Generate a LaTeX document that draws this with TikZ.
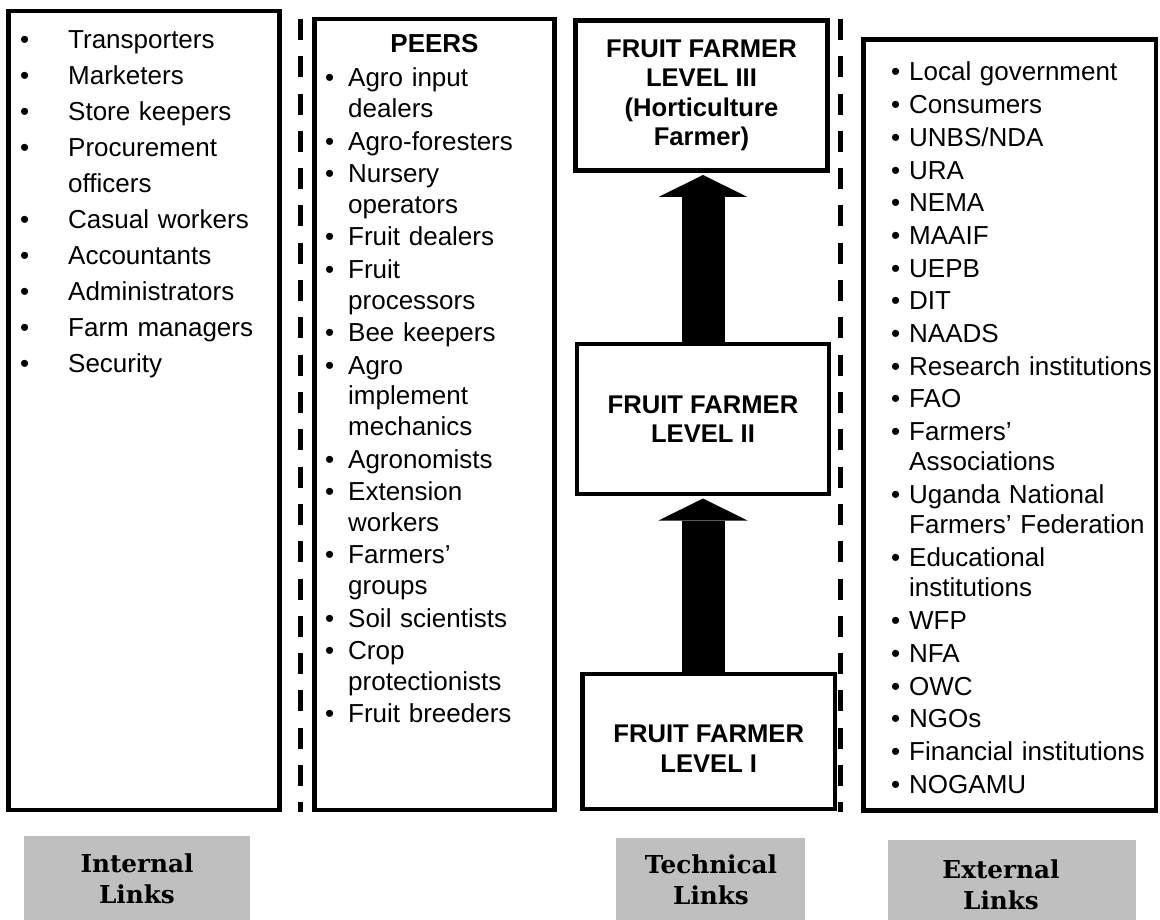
\documentclass[tikz,border=0pt]{standalone}
\usepackage{fontspec}
\setmainfont{Liberation Sans}
\newfontfamily\slabfont{DejaVu Serif}
\usetikzlibrary{arrows.meta}
\definecolor{linkgray}{HTML}{BFBFBF}

% bulleted entry with hanging indent
\newlength\bulind
\newcommand\bulitem[1]{\noindent\hangindent=\bulind\hangafter=1\makebox[\bulind][l]{\textbullet}#1\par}

\begin{document}
\begin{tikzpicture}[x=1pt,y=-1pt,
  frame/.style={draw=black, line width=4.5pt, inner sep=0pt},
  divider/.style={line width=5pt, dash pattern=on 21pt off 16.3pt},
  listtext/.style={inner sep=0pt, anchor=base west, align=left},
  heading/.style={inner sep=0pt, align=center, font=\bfseries\fontsize{25.6pt}{29.5pt}\selectfont},
  linkbox/.style={fill=linkgray, inner sep=0pt},
  linktext/.style={inner sep=0pt, anchor=base, align=center, text width=220pt,
    font=\slabfont\bfseries\fontsize{24.7pt}{31pt}\selectfont},
  uparrow/.style={line width=43pt, -{Triangle[length=22pt 0 0, width=89pt 0 0, line width=0pt]}}
]
\useasboundingbox (0,0) rectangle (1160,920);

% ---- frames of the four columns
\node[frame, minimum width=271pt, minimum height=799pt] (internal) at (144,410.5) {};
\node[frame, minimum width=240pt, minimum height=791pt] (peers) at (434.5,414.5) {};
\node[frame, minimum width=292.5pt, minimum height=771pt] (external) at (1009.75,425) {};

% ---- dashed separators
\draw[divider] (300,19) -- (300,812);
\draw[divider] (840,19) -- (840,812);

% ---- internal links list
\node[listtext, text width=255pt, font=\fontsize{26pt}{36pt}\selectfont] (internallist) at (20,49) {%
  \setlength{\bulind}{48pt}\setlength{\parskip}{0pt}%
  \bulitem{Transporters}
  \bulitem{Marketers}
  \bulitem{Store keepers}
  \bulitem{Procurement\newline officers}
  \bulitem{Casual workers}
  \bulitem{Accountants}
  \bulitem{Administrators}
  \bulitem{Farm managers}
  \bulitem{Security}};

% ---- peers list
\node[inner sep=0pt, anchor=base, font=\bfseries\fontsize{26pt}{30pt}\selectfont] (peershead) at (434.5,53) {PEERS};
\node[listtext, text width=228pt, font=\fontsize{26pt}{30.3pt}\selectfont] (peerslist) at (325,87) {%
  \setlength{\bulind}{23pt}\setlength{\parskip}{2.5pt}%
  \bulitem{Agro input\newline dealers}
  \bulitem{Agro-foresters}
  \bulitem{Nursery\newline operators}
  \bulitem{Fruit dealers}
  \bulitem{Fruit\newline processors}
  \bulitem{Bee keepers}
  \bulitem{Agro\newline implement\newline mechanics}
  \bulitem{Agronomists}
  \bulitem{Extension\newline workers}
  \bulitem{Farmers’\newline groups}
  \bulitem{Soil scientists}
  \bulitem{Crop\newline protectionists}
  \bulitem{Fruit breeders}};

% ---- external links list
\node[listtext, text width=268pt, font=\fontsize{26pt}{30.3pt}\selectfont] (externallist) at (891,81) {%
  \setlength{\bulind}{18pt}\setlength{\parskip}{2.4pt}%
  \bulitem{Local government}
  \bulitem{Consumers}
  \bulitem{UNBS/NDA}
  \bulitem{URA}
  \bulitem{NEMA}
  \bulitem{MAAIF}
  \bulitem{UEPB}
  \bulitem{DIT}
  \bulitem{NAADS}
  \bulitem{Research institutions}
  \bulitem{FAO}
  \bulitem{Farmers’\newline Associations}
  \bulitem{Uganda National\newline Farmers’ Federation}
  \bulitem{Educational\newline institutions}
  \bulitem{WFP}
  \bulitem{NFA}
  \bulitem{OWC}
  \bulitem{NGOs}
  \bulitem{Financial institutions}
  \bulitem{NOGAMU}};

% ---- farmer levels
\node[frame, minimum width=252pt, minimum height=150pt] (ff3) at (701.5,95.5) {};
\node[heading] (ff3text) at (ff3.center) {FRUIT FARMER\\LEVEL III\\(Horticulture\\Farmer)};
\node[frame, minimum width=252pt, minimum height=150pt] (ff2) at (703,419) {};
\node[heading] (ff2text) at (ff2.center) {FRUIT FARMER\\LEVEL II};
\node[frame, minimum width=252.5pt, minimum height=135pt] (ff1) at (708.75,741.5) {};
\node[heading, yshift=-7pt] (ff1text) at (ff1.center) {FRUIT FARMER\\LEVEL I};

% ---- progression arrows
\draw[uparrow] (ff1.north -| ff2.south) -- ([yshift=-2.25pt]ff2.south);
\draw[uparrow] (ff2.north) -- ([yshift=-2.25pt]ff2.north |- ff3.south);

% ---- link category labels
\node[linkbox, minimum width=226pt, minimum height=84pt] (internallabel) at (137,878) {};
\node[linktext] (internaltext) at (137,872) {Internal\\Links};
\node[linkbox, minimum width=189pt, minimum height=82pt] (technicallabel) at (710.5,879) {};
\node[linktext] (technicaltext) at (711,873) {Technical\\Links};
\node[linkbox, minimum width=248pt, minimum height=80pt] (externallabel) at (1012,880) {};
\node[linktext] (externaltext) at (1001,878) {External\\Links};
\end{tikzpicture}
\end{document}
